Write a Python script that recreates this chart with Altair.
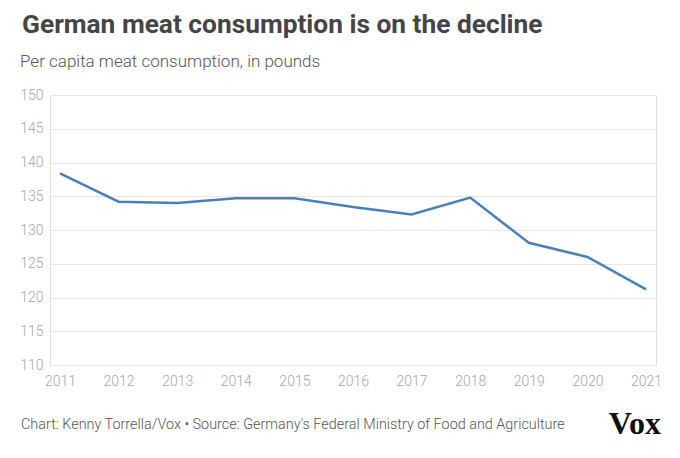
import altair as alt
import pandas as pd

years = ["2011", "2012", "2013", "2014", "2015", "2016", "2017", "2018", "2019", "2020", "2021"]
consumption = [138.4, 134.2, 134.0, 134.7, 134.7, 133.4, 132.3, 134.8, 128.1, 126.0, 121.2]
y_ticks = [110, 115, 120, 125, 130, 135, 140, 145, 150]

title_text = "German meat consumption is on the decline"
subtitle_text = "Per capita meat consumption, in pounds"
footer_text = "Chart: Kenny Torrella/Vox \u2022 Source: Germany's Federal Ministry of Food and Agriculture"
logo_text = "Vox"

df = pd.DataFrame({"year": years, "value": consumption})

W, H = 606, 270

line = alt.Chart(df).mark_line(color="#4a80b9", strokeWidth=2.5).encode(
    x=alt.X("year:O", title=None,
            scale=alt.Scale(type="point", padding=0.17),
            axis=alt.Axis(labelAngle=0, domain=False, ticks=False, grid=False,
                          labelPadding=9, labelFontSize=14, labelColor="#a6a6a6",
                          labelFont="Roboto", labelFontWeight=300)),
    y=alt.Y("value:Q", title=None,
            scale=alt.Scale(domain=[110, 150], nice=False, zero=False),
            axis=alt.Axis(values=y_ticks, domain=False, ticks=False, grid=True,
                          gridColor="#e6e6e6", gridWidth=1,
                          labelPadding=7, labelFontSize=14, labelColor="#a6a6a6",
                          labelFont="Roboto", labelFontWeight=300)),
)

def label(text, x, y, size, color, weight="normal", font="Roboto", align="left"):
    return alt.Chart(pd.DataFrame({"t": [text]})).mark_text(
        align=align, baseline="alphabetic", fontSize=size, color=color,
        fontWeight=weight, font=font,
    ).encode(text="t:N", x=alt.value(x), y=alt.value(y))

title = label(title_text, -28, -62, 26.3, "#454545", weight="bold")
subtitle = label(subtitle_text, -30, -28, 17, "#555555", weight=300)
footer = label(footer_text, -29, 334, 14.4, "#555555", weight=300)
logo = label(logo_text, 611, 339, 32, "#111111", weight="bold", font="Liberation Serif", align="right")

chart = alt.layer(line, title, subtitle, footer, logo).properties(
    width=W, height=H,
    autosize=alt.AutoSizeParams(type="none"),
    padding={"left": 42, "top": 87, "right": 16, "bottom": 75},
).configure_view(strokeWidth=0).configure(background="white")

chart.save("out.html", embed_options={"renderer": "svg", "actions": False})
